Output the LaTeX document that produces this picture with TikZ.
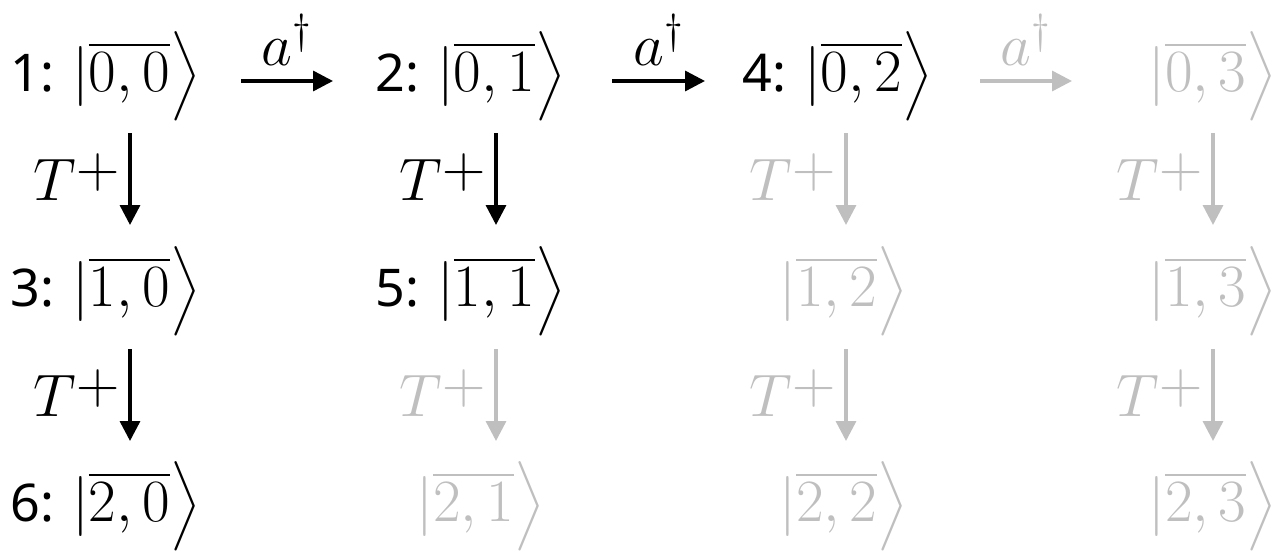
\RequirePackage{fix-cm}
\documentclass[tikz,border=0pt]{standalone}
\usepackage{amsmath}
\usepackage{fontspec}
\setmainfont{Noto Sans}
\usetikzlibrary{arrows.meta}
\definecolor{lightg}{RGB}{191,191,191}
\newcommand{\mathsz}{\fontsize{30}{36}\selectfont}
\tikzset{
  st/.style={inner sep=0pt, anchor=base west, font=\fontsize{26}{32}\selectfont},
  lab/.style={inner sep=0pt, font=\mathsz},
  arr/.style={line width=1.7pt, -{Triangle[length=10pt,width=10pt]}},
  faded/.style={color=lightg}
}
\newcommand{\myket}[1]{{\mathsz$|\overline{#1}\smash{\big\rangle}$}}
\newcommand{\Tplus}{$T^{\raisebox{-4pt}{\fontsize{30}{30}\selectfont$+$}}$}
\begin{document}
\begin{tikzpicture}[x=0.5pt,y=-0.5pt]
\useasboundingbox (0,0) rectangle (1284,556);
% row 0
\node[st] (n00) at (10,91) {1: \myket{0,0}};
\node[st] (n01) at (375,91) {2: \myket{0,1}};
\node[st] (n02) at (742,91) {4: \myket{0,2}};
\node[st,faded] (n03) at (1148,91) {\myket{0,3}};
% row 1
\node[st] (n10) at (10,306) {3: \myket{1,0}};
\node[st] (n11) at (375,306) {5: \myket{1,1}};
\node[st,faded] (n12) at (779,306) {\myket{1,2}};
\node[st,faded] (n13) at (1148,306) {\myket{1,3}};
% row 2
\node[st] (n20) at (10,521) {6: \myket{2,0}};
\node[st,faded] (n21) at (416,521) {\myket{2,1}};
\node[st,faded] (n22) at (779,521) {\myket{2,2}};
\node[st,faded] (n23) at (1148,521) {\myket{2,3}};
% horizontal arrows
\coordinate (h0a) at (241,81); \coordinate (h0b) at (333,81);
\coordinate (h1a) at (612,81); \coordinate (h1b) at (705,81);
\coordinate (h2a) at (980,81); \coordinate (h2b) at (1072,81);
\draw[arr] (h0a) -- node[lab,above=7pt] (la0) {$a^\dagger$} (h0b);
\draw[arr] (h1a) -- node[lab,above=7pt] (la1) {$a^\dagger$} (h1b);
\draw[arr,faded] (h2a) -- node[lab,above=7pt,faded] (la2) {$a^\dagger$} (h2b);
% vertical arrows
\foreach \nm/\x/\ya/\yb/\sty in {v00/130/133/225/black, v01/496/133/225/black, v02/846/133/225/lightg, v03/1213/133/225/lightg,
  v10/130/349/441/black, v11/496/349/441/lightg, v12/846/349/441/lightg, v13/1213/349/441/lightg}{
  \coordinate (\nm a) at (\x,\ya);
  \coordinate (\nm b) at (\x,\yb);
  \draw[arr,color=\sty] (\nm a) -- node[lab,left=4pt,pos=0.48,color=\sty] (\nm t) {\Tplus} (\nm b);
}
\end{tikzpicture}
\end{document}
